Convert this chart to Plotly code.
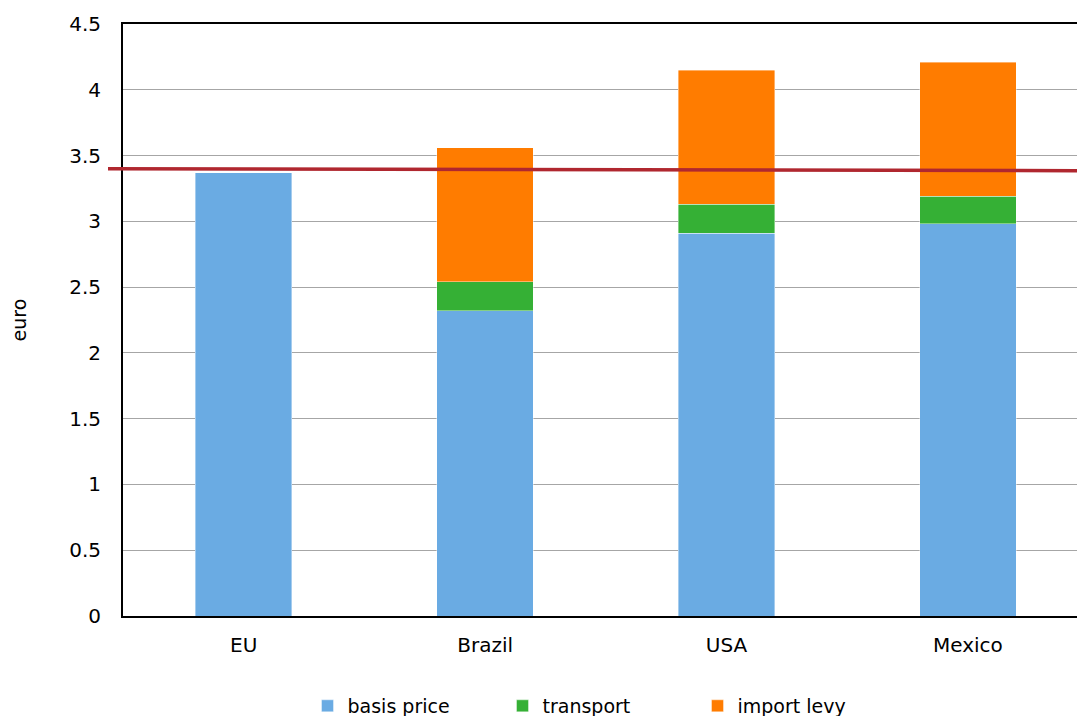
import plotly.graph_objects as go

categories = ["EU", "Brazil", "USA", "Mexico"]
basis_price = [3.37, 2.32, 2.91, 2.98]
transport = [0, 0.22, 0.22, 0.21]
import_levy = [0, 1.02, 1.02, 1.02]
reference_line = [3.40, 3.385]  # left end, right end
y_ticks = [0, 0.5, 1, 1.5, 2, 2.5, 3, 3.5, 4, 4.5]
y_tick_labels = ["0", "0.5", "1", "1.5", "2", "2.5", "3", "3.5", "4", "4.5"]

FONT = "DejaVu Sans"

fig = go.Figure()
series = [
    ("basis price", basis_price, "#6AABE3"),
    ("transport", transport, "#35B035"),
    ("import levy", import_levy, "#FF7C00"),
]
for name, vals, color in series:
    fig.add_trace(go.Bar(
        x=categories, y=vals, name=name,
        marker=dict(color=color, line=dict(color="rgba(255,255,255,0.5)", width=0.8)),
        width=0.4,
    ))

fig.add_shape(type="line", xref="paper", yref="y",
              x0=-0.0157, x1=1.0, y0=reference_line[0], y1=reference_line[1],
              line=dict(color="#B0272F", width=3.5), layer="above")

fig.update_layout(
    width=1077, height=716,
    margin=dict(l=123, r=0, t=24, b=100, autoexpand=False),
    barmode="stack",
    plot_bgcolor="white", paper_bgcolor="white",
    font=dict(family=FONT, size=20, color="#000000"),
    showlegend=True,
    legend=dict(orientation="h", x=0.50, xanchor="center", y=-0.152, yanchor="middle",
                font=dict(family=FONT, size=19), entrywidth=150, entrywidthmode="pixels",
                traceorder="normal"),
    xaxis=dict(range=[-0.5, 3.452], showline=True, linecolor="#000000", linewidth=2,
               mirror=True, ticks="", showgrid=False, ticklabelstandoff=10,
               automargin=False, tickfont=dict(family=FONT, size=20)),
    yaxis=dict(range=[0, 4.5], tickvals=y_ticks, ticktext=y_tick_labels,
               showline=True, linecolor="#000000", linewidth=2, ticks="",
               showgrid=True, gridcolor="#A6A6A6", gridwidth=1.3, zeroline=False,
               ticklabelstandoff=16, automargin=False, tickfont=dict(family=FONT, size=20),
               title=dict(text="euro", font=dict(family=FONT, size=19), standoff=38)),
)

fig.write_html("out.html", config={"displayModeBar": False},
               post_script="document.body.style.margin='0';document.body.style.overflow='hidden';")
